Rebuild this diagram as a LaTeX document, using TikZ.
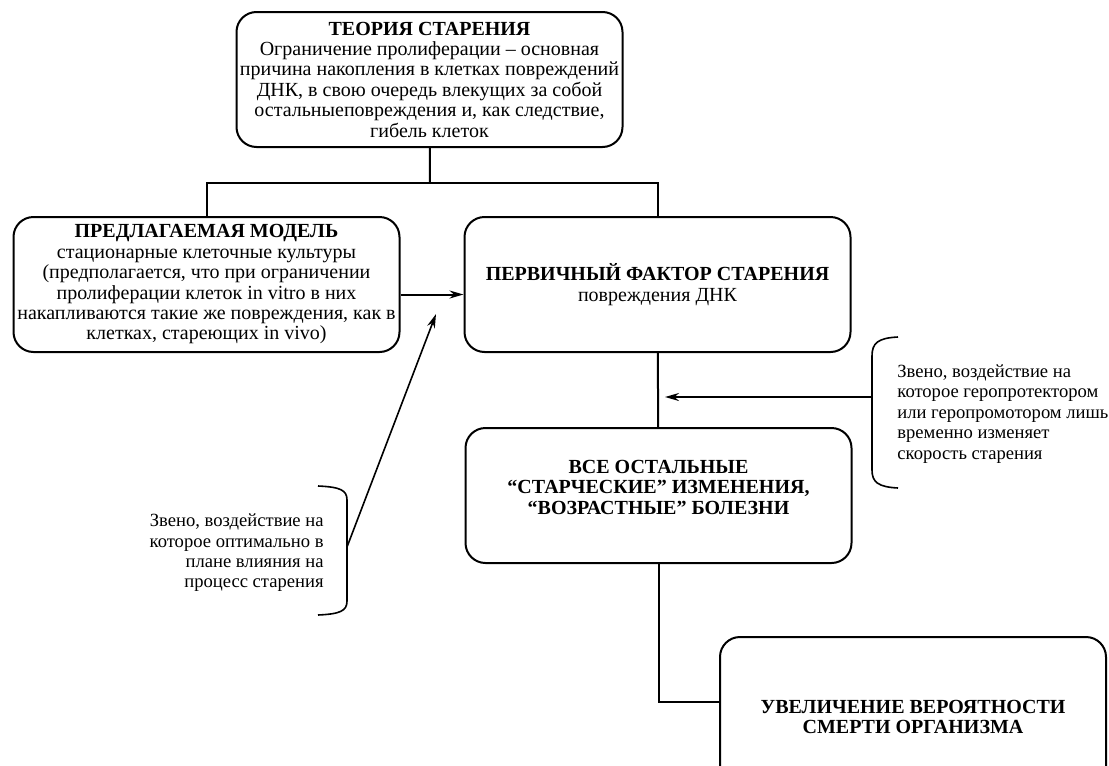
\documentclass[tikz,border=0pt]{standalone}
\usepackage{fontspec}
\setmainfont{Liberation Serif}
\usetikzlibrary{arrows.meta}
\tikzset{
  block/.style={draw, line width=1pt, rounded corners=10pt, align=center, inner sep=0pt,
    minimum width=193pt, minimum height=67.5pt, font=\fontsize{10}{10.2}\selectfont},
  note/.style={inner sep=0pt, font=\fontsize{9.3}{10.2}\selectfont},
  link/.style={line width=1pt},
  brace/.style={line width=0.8pt}
}
\begin{document}
\begin{tikzpicture}[x=0.5pt, y=-0.5pt, >={Stealth[length=7pt,width=4pt]}]
            \clip (0,0) rectangle (1109,766);
            \node[block] (theory) at (429.5,79.5) {\textbf{ТЕОРИЯ СТАРЕНИЯ}\\Ограничение пролиферации -- основная\\причина накопления в клетках повреждений\\ДНК, в свою очередь влекущих за собой\\остальныеповреждения и, как следствие,\\гибель клеток};
            \node[block] (model) at (206.5,284.5) {\textbf{ПРЕДЛАГАЕМАЯ МОДЕЛЬ}\\стационарные клеточные культуры\\(предполагается, что при ограничении\\пролиферации клеток in vitro в них\\накапливаются такие же повреждения, как в\\клетках, стареющих in vivo)};
            \node[block] (primary) at (657.5,284.5) {\textbf{ПЕРВИЧНЫЙ ФАКТОР СТАРЕНИЯ}\\повреждения ДНК};
            \node[block] (other) at (658.5,495.5) {\textbf{ВСЕ ОСТАЛЬНЫЕ}\\\textbf{“СТАРЧЕСКИЕ” ИЗМЕНЕНИЯ,}\\\textbf{“ВОЗРАСТНЫЕ” БОЛЕЗНИ}\\[-2pt]};
            \node[block, minimum height=80pt] (death) at (913,717) {\textbf{УВЕЛИЧЕНИЕ ВЕРОЯТНОСТИ}\\\textbf{СМЕРТИ ОРГАНИЗМА}};
            \node[note, anchor=west, align=left] (rnote) at (897,414) {Звено, воздействие на\\которое геропротектором\\или геропромотором лишь\\временно изменяет\\скорость старения};
            \node[note, anchor=east, align=right] (lnote) at (324,553) {Звено, воздействие на\\которое оптимально в\\плане влияния на\\процесс старения};

            \coordinate (split) at (430,183);
            \coordinate (rb) at (872,397); \coordinate (rbtip) at (665,397);
            \coordinate (lb) at (347,547); \coordinate (lbtip) at (436,314);

            \draw[link] (theory) -- (split); \draw[link] (split) -| (model); \draw[link] (split) -| (primary);
            \draw[link, ->] ([yshift=-5pt]model.east) -- ([yshift=-5pt]primary.west);
            \draw[link] (primary) -- (other);
            \draw[link] (other.south) |- ([yshift=7.5pt]death.west);
            \draw[link, ->] (rb) -- (rbtip);
            \draw[brace, ->] (lb) -- (lbtip);

            \draw[brace] (898,337) .. controls (878,338) and (872,343) .. (872,356) -- (872,470) .. controls (872,482) and (878,487) .. (898,488);
            \draw[brace] (318,486) .. controls (340,487) and (347,490) .. (347,500) -- (347,601) .. controls (347,611) and (340,614) .. (318,615);
        \end{tikzpicture}
\end{document}
